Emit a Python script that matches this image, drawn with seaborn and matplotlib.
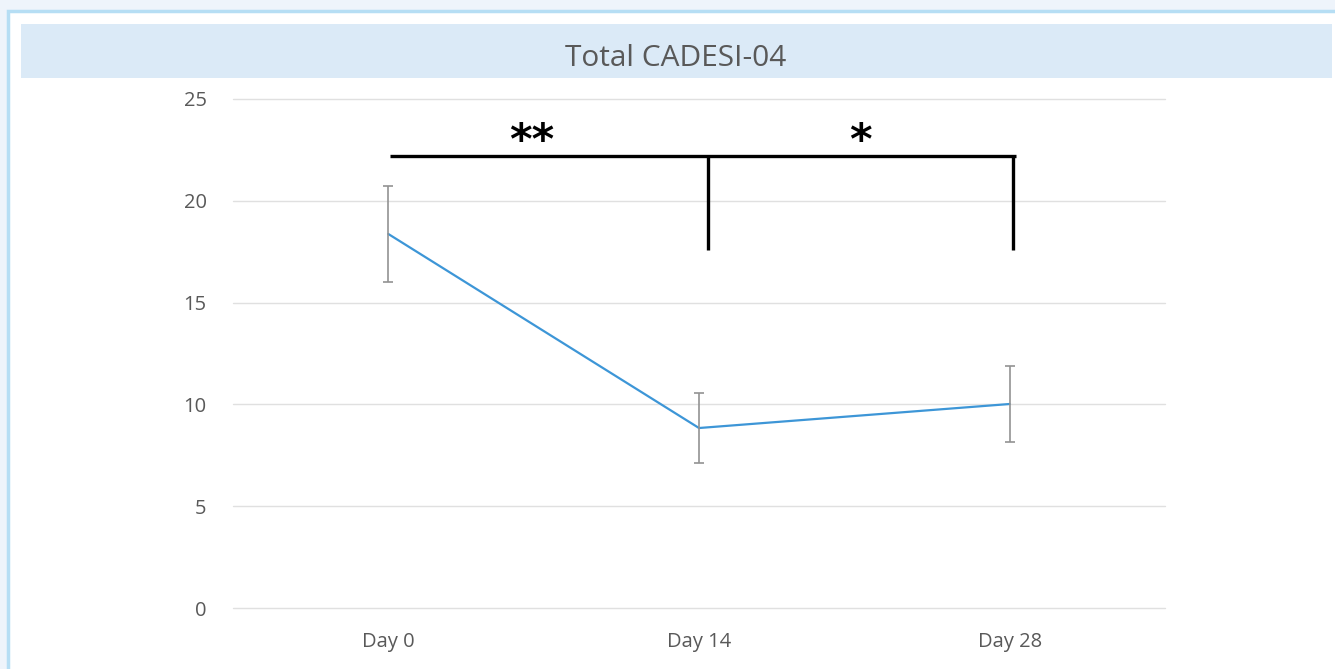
import matplotlib
matplotlib.use("Agg")
import matplotlib.pyplot as plt
import seaborn as sns
import pandas as pd
from matplotlib.patches import Rectangle

categories = ["Day 0", "Day 14", "Day 28"]
means = [18.37, 8.84, 10.02]
errors = [2.36, 1.70, 1.85]
y_ticks = [0, 5, 10, 15, 20, 25]
title = "Total CADESI-04"
sig_labels = ["**", "*"]

sns.set_theme(style="white")
plt.rcParams["font.family"] = ["Open Sans", "DejaVu Sans"]

fig = plt.figure(figsize=(13.35, 6.69), dpi=100)
fig.patch.set_facecolor("#eef4fb")

# white panel with light-blue border
fig.patches.append(Rectangle((8/1335, -0.01), 1 - 8/1335 + 0.01, 1 - 11/669 + 0.01,
                             transform=fig.transFigure, facecolor="white",
                             edgecolor="#b6def4", linewidth=2.5, zorder=-3))
# title band
fig.patches.append(Rectangle((21/1335, 1 - 78/669), (1332 - 21)/1335, 54/669,
                             transform=fig.transFigure, facecolor="#dbeaf7",
                             edgecolor="none", zorder=-2))
fig.text(676/1335, 1 - 59/669, title, ha="center", va="center",
         fontsize=21.5, color="#595959")

ax = fig.add_axes([233/1335, 61/669, 932/1335, 509/669])
ax.set_facecolor("none")
ax.set_zorder(2)

df = pd.DataFrame({"day": categories, "score": means})
sns.lineplot(data=df, x="day", y="score", ax=ax, color="#3d96d7",
             linewidth=1.6, sort=False)
ax.errorbar(range(len(categories)), means, yerr=errors, fmt="none",
            ecolor="#929292", elinewidth=1.2, capsize=3.5, capthick=1.2,
            zorder=3)

ax.set_xlim(-0.5, 2.5)
ax.set_ylim(0, 25)
ax.set_yticks(y_ticks)
ax.set_xticks(range(len(categories)))
ax.set_xticklabels(categories)
ax.set_xlabel("")
ax.set_ylabel("")
ax.yaxis.grid(True, color="#e0e0e0", linewidth=1.0)
ax.xaxis.grid(False)
for gl in ax.get_ygridlines():
    gl.set_clip_on(False)
for s in ax.spines.values():
    s.set_visible(False)
ax.tick_params(axis="both", length=0, labelsize=14.5, colors="#595959")
ax.tick_params(axis="y", pad=19)
ax.tick_params(axis="x", pad=17)

# significance brackets
lw = 2.4
ax.plot([0.005, 2.02], [22.2, 22.2], color="black", lw=lw,
        solid_capstyle="butt", clip_on=False)
ax.plot([1.029, 1.029], [22.2, 17.6], color="black", lw=lw,
        solid_capstyle="butt", clip_on=False)
ax.plot([2.011, 2.011], [22.2, 17.6], color="black", lw=lw,
        solid_capstyle="butt", clip_on=False)
ax.text(0.46, 21.85, sig_labels[0], ha="center", va="bottom",
        fontsize=31, fontweight="bold", color="black",
        family=["DejaVu Sans"])
ax.text(1.518, 21.85, sig_labels[1], ha="center", va="bottom",
        fontsize=31, fontweight="bold", color="black",
        family=["DejaVu Sans"])

fig.savefig("out.png", dpi=100, facecolor=fig.get_facecolor())
